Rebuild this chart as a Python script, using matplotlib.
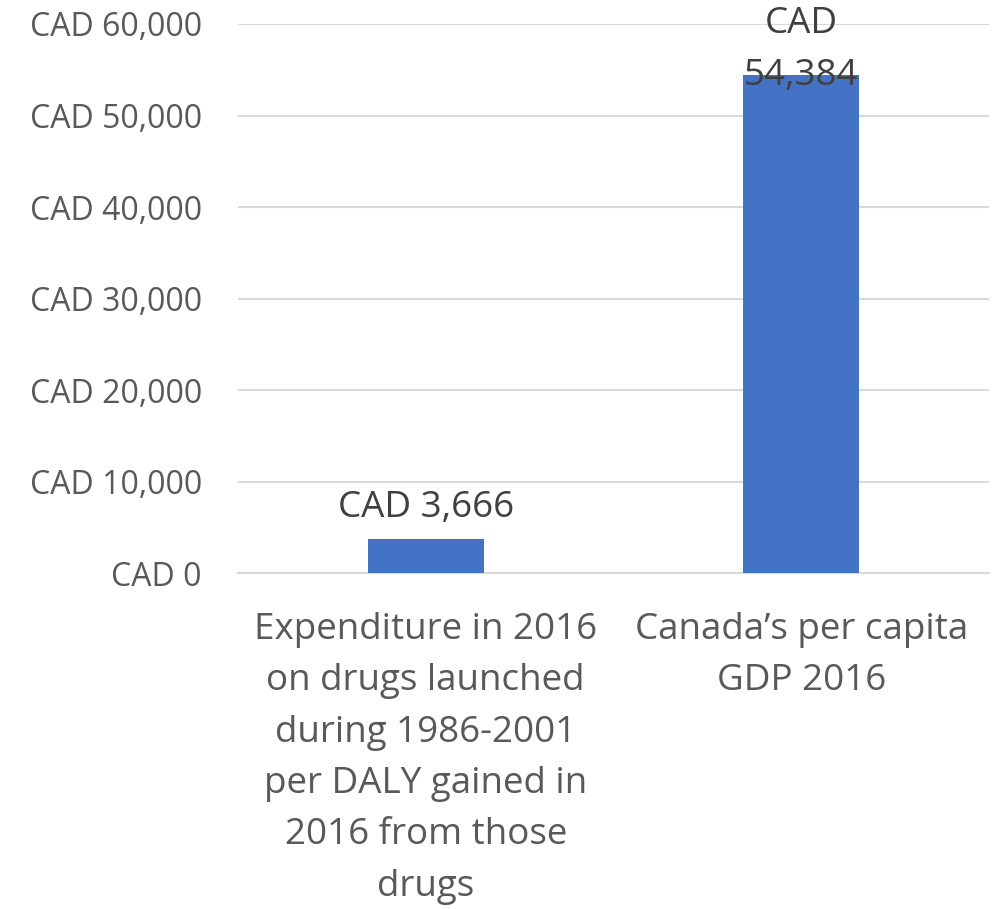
import matplotlib.pyplot as plt

plt.rcParams['font.family'] = ['Open Sans', 'DejaVu Sans']

categories = [
    'Expenditure in 2016\non drugs launched\nduring 1986-2001\nper DALY gained in\n2016 from those\ndrugs',
    'Canada\u2019s per capita\nGDP 2016',
]
values = [3666, 54384]
value_labels = ['CAD 3,666', 'CAD\n54,384']
yticks = [0, 10000, 20000, 30000, 40000, 50000, 60000]
ytick_labels = ['CAD 0', 'CAD 10,000', 'CAD 20,000', 'CAD 30,000',
                'CAD 40,000', 'CAD 50,000', 'CAD 60,000']

BAR_COLOR = '#4472C4'
GRID_COLOR = '#D9D9D9'
TICK_COLOR = '#595959'
LABEL_COLOR = '#404040'

fig = plt.figure(figsize=(10, 9.09), dpi=100)
ax = fig.add_axes([0.238, 0.3696, 0.751, 0.604])

x = list(range(len(values)))
ax.bar(x, values, width=0.31, color=BAR_COLOR, zorder=3)

ax.set_xlim(-0.5, len(values) - 0.5)
ax.set_ylim(0, 60000)
ax.set_yticks(yticks)
ax.set_yticklabels(ytick_labels, fontsize=23, color=TICK_COLOR)
ax.set_xticks(x)
ax.set_xticklabels(categories, fontsize=26.5, color=TICK_COLOR, linespacing=1.57)

ax.grid(axis='y', color=GRID_COLOR, linewidth=1.5, zorder=0)
for side in ['top', 'right', 'left']:
    ax.spines[side].set_visible(False)
ax.spines['bottom'].set_color(GRID_COLOR)
ax.spines['bottom'].set_linewidth(1.5)
ax.tick_params(axis='both', length=0)
ax.tick_params(axis='y', pad=26)
ax.tick_params(axis='x', pad=28)

# value labels sit above the bar; a tall bar gets its label pinned to the top edge
for xi, v, lab in zip(x, values, value_labels):
    if v > 50000:
        ax.annotate(lab, xy=(xi, 60000), xytext=(0, 13), textcoords='offset points',
                    ha='center', va='top', fontsize=26.5, color=LABEL_COLOR,
                    linespacing=1.6, zorder=4, annotation_clip=False)
    else:
        ax.annotate(lab, xy=(xi, v), xytext=(0, 16), textcoords='offset points',
                    ha='center', va='baseline', fontsize=26.5, color=LABEL_COLOR,
                    zorder=4)

fig.savefig('out.png', dpi=100)
